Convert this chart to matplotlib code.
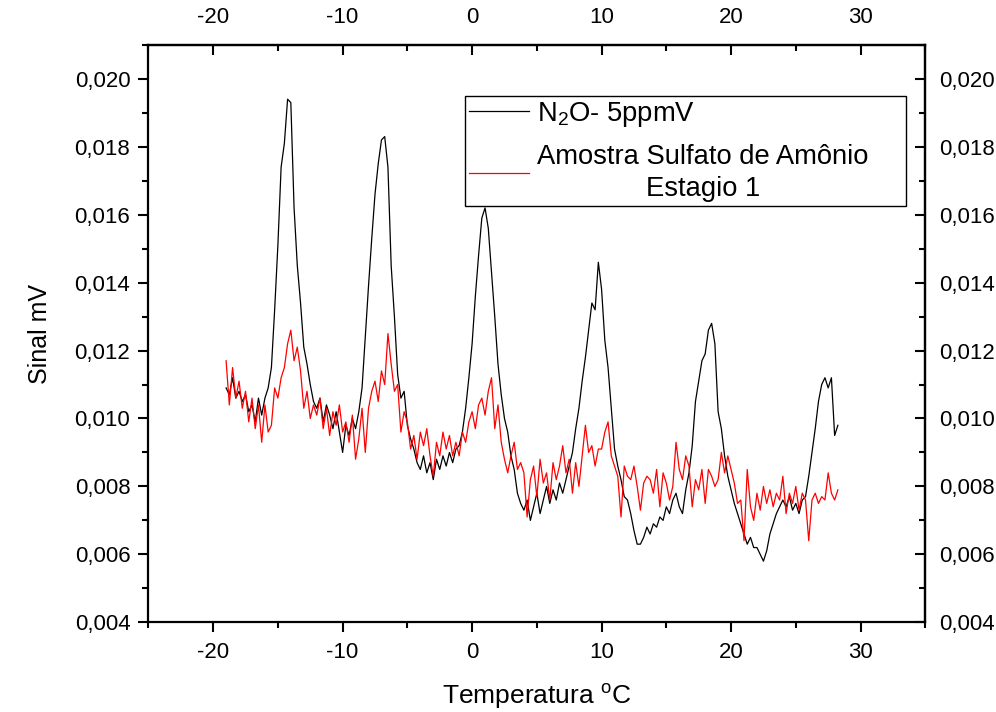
# Sinal x temperatura: N2O padrao e amostra de sulfato de amonio
import numpy as np
import matplotlib.pyplot as plt
from matplotlib.ticker import FixedLocator, FuncFormatter

plt.rcParams['font.family'] = ['Liberation Sans', 'DejaVu Sans']
plt.rcParams['mathtext.fontset'] = 'custom'
plt.rcParams['mathtext.rm'] = 'Liberation Sans'
plt.rcParams['mathtext.it'] = 'Liberation Sans:italic'
plt.rcParams['axes.unicode_minus'] = False

# temperatura (oC), amostrada a cada 0,25 oC
temperatura = np.arange(-19.0, 28.5, 0.25)

# sinal em 10^-3 mV (4 pontos por grau)
sinal_n2o = [
    10.9, 10.7, 11.2, 10.6,   # -19
    10.8, 10.5, 10.7, 10.2,   # -18
    10.4, 9.9, 10.6, 10.1,    # -17
    10.6, 10.9, 11.5, 13.2,   # -16
    15.1, 17.4, 18.1, 19.4,   # -15
    19.3, 16.2, 14.5, 13.4,   # -14
    12.1, 11.6, 11.0, 10.5,   # -13
    10.3, 10.6, 9.9, 10.4,    # -12
    10.1, 9.7, 10.2, 9.6,     # -11
    9.0, 9.8, 9.5, 10.0,      # -10
    9.7, 10.2, 10.9, 12.4,    # -9
    13.9, 15.3, 16.6, 17.5,   # -8
    18.2, 18.3, 17.4, 14.5,   # -7
    13.0, 11.3, 10.6, 10.8,   # -6
    9.8, 9.4, 9.1, 8.7,       # -5
    8.5, 8.9, 8.4, 8.7,       # -4
    8.2, 8.8, 8.5, 8.9,       # -3
    8.6, 9.0, 8.7, 9.1,       # -2
    9.2, 9.6, 10.3, 11.2,     # -1
    12.2, 13.6, 14.8, 15.9,   # 0
    16.2, 15.6, 14.3, 13.0,   # 1
    11.6, 10.7, 10.0, 9.6,    # 2
    8.9, 8.5, 7.8, 7.5,       # 3
    7.3, 7.6, 7.0, 7.4,       # 4
    7.8, 7.2, 7.6, 8.0,       # 5
    7.5, 7.9, 7.6, 8.1,       # 6
    7.8, 8.2, 8.6, 9.0,       # 7
    9.7, 10.3, 11.1, 11.8,    # 8
    12.6, 13.4, 13.2, 14.6,   # 9
    13.8, 12.3, 11.5, 10.3,   # 10
    9.1, 8.6, 8.2, 7.7,       # 11
    7.6, 7.2, 6.7, 6.3,       # 12
    6.3, 6.5, 6.8, 6.6,       # 13
    6.9, 6.8, 7.1, 7.0,       # 14
    7.4, 7.2, 7.6, 7.8,       # 15
    7.4, 7.2, 7.9, 8.4,       # 16
    9.2, 10.5, 11.1, 11.7,    # 17
    11.9, 12.6, 12.8, 12.2,   # 18
    10.2, 9.7, 8.9, 8.3,      # 19
    7.9, 7.5, 7.2, 6.9,       # 20
    6.6, 6.3, 6.5, 6.2,       # 21
    6.2, 6.0, 5.8, 6.1,       # 22
    6.6, 6.9, 7.2, 7.4,       # 23
    7.6, 7.4, 7.7, 7.3,       # 24
    7.5, 7.2, 7.6, 7.7,       # 25
    8.3, 9.0, 9.7, 10.5,      # 26
    11.0, 11.2, 10.9, 11.2,   # 27
    9.5, 9.8,                 # 28
]

sinal_amostra = [
    11.7, 10.4, 11.5, 10.6,   # -19
    11.1, 10.3, 10.8, 9.9,    # -18
    10.6, 9.7, 10.4, 9.3,     # -17
    10.4, 9.6, 9.8, 10.9,     # -16
    10.6, 11.2, 11.5, 12.2,   # -15
    12.6, 11.7, 12.1, 11.4,   # -14
    10.3, 10.8, 10.0, 10.4,   # -13
    10.1, 10.6, 9.7, 10.3,    # -12
    9.5, 10.2, 9.8, 10.4,     # -11
    9.6, 9.9, 9.3, 10.1,      # -10
    8.8, 9.4, 10.3, 9.0,      # -9
    10.3, 10.8, 11.1, 10.5,   # -8
    11.4, 11.0, 12.5, 11.6,   # -7
    10.8, 11.0, 9.6, 10.2,    # -6
    9.9, 9.1, 9.5, 8.8,       # -5
    9.6, 9.2, 9.7, 8.9,       # -4
    8.3, 9.3, 8.9, 9.6,       # -3
    9.1, 9.5, 8.9, 9.3,       # -2
    8.9, 9.6, 9.3, 9.9,       # -1
    10.2, 9.7, 10.4, 10.6,    # 0
    10.1, 10.8, 11.2, 9.7,    # 1
    10.4, 9.3, 8.8, 8.4,      # 2
    8.9, 9.3, 8.5, 8.7,       # 3
    8.4, 7.1, 8.2, 8.6,       # 4
    7.7, 8.8, 8.1, 8.4,       # 5
    7.6, 8.7, 8.2, 8.6,       # 6
    9.2, 8.4, 8.8, 7.8,       # 7
    8.7, 8.0, 8.9, 9.8,       # 8
    9.0, 9.2, 8.6, 9.1,       # 9
    9.1, 9.6, 9.9, 8.9,       # 10
    8.6, 8.3, 7.1, 8.6,       # 11
    8.3, 8.2, 8.6, 8.0,       # 12
    7.3, 8.1, 8.3, 8.2,       # 13
    7.8, 8.5, 7.4, 8.4,       # 14
    8.1, 7.6, 8.0, 9.3,       # 15
    8.5, 8.2, 8.9, 8.6,       # 16
    7.4, 8.2, 7.9, 8.5,       # 17
    7.5, 8.5, 8.3, 8.0,       # 18
    8.2, 9.0, 8.4, 8.9,       # 19
    8.5, 8.1, 7.5, 7.6,       # 20
    6.4, 8.5, 7.4, 7.0,       # 21
    7.8, 7.3, 8.0, 7.5,       # 22
    7.9, 7.4, 7.8, 7.6,       # 23
    8.3, 7.2, 7.8, 7.5,       # 24
    8.0, 7.3, 7.8, 7.6,       # 25
    6.4, 7.6, 7.8, 7.5,       # 26
    7.7, 7.6, 8.4, 7.8,       # 27
    7.6, 7.9,                 # 28
]

rotulos = ['N$_2$O- 5ppmV', 'Amostra Sulfato de Amônio\nEstagio 1']

x_maiores = [-20, -10, 0, 10, 20, 30]
x_menores = [-25, -15, -5, 5, 15, 25, 35]
y_maiores = [0.004, 0.006, 0.008, 0.010, 0.012, 0.014, 0.016, 0.018, 0.020]
y_menores = [0.005, 0.007, 0.009, 0.011, 0.013, 0.015, 0.017, 0.019, 0.021]

y_n2o = np.array(sinal_n2o) / 1000
y_amostra = np.array(sinal_amostra) / 1000

fig = plt.figure(figsize=(9.96, 7.12), dpi=100)
ax = fig.add_axes([0.149, 0.126, 0.78, 0.811])

ax.plot(temperatura, y_n2o, color='black', lw=0.9, label=rotulos[0])
ax.plot(temperatura, y_amostra, color='red', lw=0.9, label=rotulos[1])

ax.set_xlim(-25, 35)
ax.set_ylim(0.004, 0.021)

virgula = FuncFormatter(lambda v, p: f'{v:.3f}'.replace('.', ','))
inteiro = FuncFormatter(lambda v, p: f'{v:.0f}')

ax.xaxis.set_major_locator(FixedLocator(x_maiores))
ax.xaxis.set_minor_locator(FixedLocator(x_menores))
ax.xaxis.set_major_formatter(inteiro)
ax.yaxis.set_major_locator(FixedLocator(y_maiores))
ax.yaxis.set_minor_locator(FixedLocator(y_menores))
ax.yaxis.set_major_formatter(virgula)
ax.tick_params(which='both', direction='out', width=1.5, labelsize=16)
ax.tick_params(which='major', length=7)
ax.tick_params(which='minor', length=4)
ax.tick_params(axis='y', pad=6)
ax.tick_params(axis='x', pad=7)

# eixos espelhados (topo e direita) com ticks para dentro
topo = ax.secondary_xaxis('top')
topo.xaxis.set_major_locator(FixedLocator(x_maiores))
topo.xaxis.set_minor_locator(FixedLocator(x_menores))
topo.xaxis.set_major_formatter(inteiro)
topo.tick_params(which='both', direction='in', width=1.5, labelsize=16, pad=12)
topo.tick_params(which='major', length=7)
topo.tick_params(which='minor', length=4)

direita = ax.secondary_yaxis('right')
direita.yaxis.set_major_locator(FixedLocator(y_maiores))
direita.yaxis.set_minor_locator(FixedLocator(y_menores))
direita.yaxis.set_major_formatter(virgula)
direita.tick_params(which='both', direction='in', width=1.5, labelsize=16, pad=10)
direita.tick_params(which='major', length=7)
direita.tick_params(which='minor', length=4)

for s in list(ax.spines.values()) + [topo.spines['top'], direita.spines['right']]:
    s.set_linewidth(1.6)

ax.set_xlabel('Temperatura $^{\\mathrm{o}}$C', fontsize=19, labelpad=14)
ax.set_ylabel('Sinal mV', fontsize=18, labelpad=16)

leg = ax.legend(loc='upper left', bbox_to_anchor=(0.407, 0.723, 0.5676, 0.189),
                mode='expand', borderaxespad=0,
                fontsize=19.7, frameon=True, fancybox=False, edgecolor='black',
                framealpha=1, handlelength=2.2, handletextpad=0.3,
                borderpad=0.15, labelspacing=0.55)
leg.get_frame().set_linewidth(1.0)
for t in leg.get_texts():
    t.set_multialignment('center')
    t.set_linespacing(1.3)

fig.savefig('out.png', dpi=100)
